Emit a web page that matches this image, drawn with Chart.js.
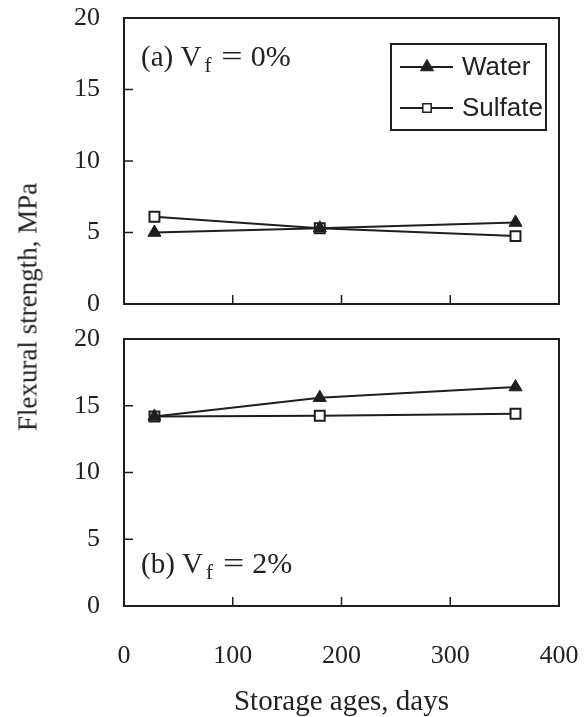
<!DOCTYPE html>
<html>
<head>
<meta charset="utf-8">
<script src="https://cdn.jsdelivr.net/npm/chart.js@4.4.0/dist/chart.umd.min.js"></script>
<style>
    html, body { margin: 0; padding: 0; background: #fff; }
    #wrap { position: relative; width: 587px; height: 717px; background: #fff; overflow: hidden; }
    .panel { position: absolute; left: 0; }
    #y-title {
        position: absolute;
        left: 28px;
        top: 307px;
        transform: translate(-50%, -50%) rotate(-90deg);
        white-space: nowrap;
        font-family: "Liberation Serif", "DejaVu Serif", serif;
        font-size: 27px;
        color: #222;
    }
</style>
</head>
<body>
<div id="wrap">
    <div class="panel" style="top:0"><canvas id="chart-a" width="587" height="320"></canvas></div>
    <div class="panel" style="top:320px"><canvas id="chart-b" width="587" height="397"></canvas></div>
    <div id="y-title">Flexural strength, MPa</div>
</div>
<script>
// storage ages (days) and flexural strength (MPa)
const storageDays = [28, 180, 360];
const waterVf0 = [5.0, 5.3, 5.7];
const sulfateVf0 = [6.1, 5.3, 4.75];
const waterVf2 = [14.2, 15.6, 16.4];
const sulfateVf2 = [14.2, 14.25, 14.4];
const seriesNames = ['Water', 'Sulfate'];
const xTicks = [0, 100, 200, 300, 400];
const yTicks = [0, 5, 10, 15, 20];

const INK = '#1e1e1e';
const SERIF = '"Liberation Serif", "DejaVu Serif", serif';
const SANS = '"Liberation Sans", Arial, sans-serif';

function toPoints(values) {
    return storageDays.map((d, i) => ({ x: d, y: values[i] }));
}

function makeDatasets(water, sulfate) {
    return [
        {
            label: seriesNames[0],
            data: toPoints(water),
            borderColor: INK,
            borderWidth: 2,
            pointStyle: 'triangle',
            pointRadius: 7.5,
            pointBackgroundColor: INK,
            pointBorderColor: INK,
            pointBorderWidth: 1,
            order: 0
        },
        {
            label: seriesNames[1],
            data: toPoints(sulfate),
            borderColor: INK,
            borderWidth: 2,
            pointStyle: 'rect',
            pointRadius: 7,
            pointBackgroundColor: '#fff',
            pointBorderColor: INK,
            pointBorderWidth: 2,
            order: 1
        }
    ];
}

// frame round the plot area plus inward tick marks
const framePlugin = {
    id: 'frame',
    afterDraw(chart) {
        const { ctx, chartArea: a, scales } = chart;
        ctx.save();
        ctx.strokeStyle = INK;
        ctx.lineWidth = 2;
        ctx.strokeRect(a.left, a.top, a.right - a.left, a.bottom - a.top);
        ctx.lineWidth = 1.5;
        ctx.beginPath();
        scales.y.ticks.forEach(t => {
            if (t.value === scales.y.min || t.value === scales.y.max) return;
            const y = scales.y.getPixelForValue(t.value);
            ctx.moveTo(a.left, y);
            ctx.lineTo(a.left + 9, y);
        });
        scales.x.ticks.forEach(t => {
            if (t.value === scales.x.min || t.value === scales.x.max) return;
            const x = scales.x.getPixelForValue(t.value);
            ctx.moveTo(x, a.bottom);
            ctx.lineTo(x, a.bottom - 9);
        });
        ctx.stroke();
        ctx.restore();
    }
};

function drawMarker(ctx, style, x, y, r, fill) {
    ctx.beginPath();
    if (style === 'triangle') {
        ctx.moveTo(x, y - r);
        ctx.lineTo(x + r * 0.87, y + r * 0.5);
        ctx.lineTo(x - r * 0.87, y + r * 0.5);
        ctx.closePath();
    } else {
        const s = r * 0.7;
        ctx.rect(x - s, y - s, 2 * s, 2 * s);
    }
    ctx.fillStyle = fill;
    ctx.fill();
    ctx.stroke();
}

// boxed legend, line + marker + name
const legendPlugin = {
    id: 'boxLegend',
    afterDraw(chart, args, opts) {
        if (!opts.show) return;
        const { ctx, chartArea: a } = chart;
        const w = 155, h = 86;
        const left = a.right - 13 - w;
        const top = a.top + 26;
        ctx.save();
        ctx.strokeStyle = INK;
        ctx.lineWidth = 2;
        ctx.strokeRect(left, top, w, h);
        ctx.font = '26px ' + SANS;
        ctx.textBaseline = 'middle';
        ctx.textAlign = 'left';
        chart.data.datasets.forEach((ds, i) => {
            const y = top + 23 + i * 41;
            ctx.strokeStyle = INK;
            ctx.lineWidth = 2;
            ctx.beginPath();
            ctx.moveTo(left + 9, y);
            ctx.lineTo(left + 62, y);
            ctx.stroke();
            ctx.lineWidth = i === 0 ? 1 : 1.5;
            drawMarker(ctx, ds.pointStyle, left + 36, y, i === 0 ? 7.5 : 6, ds.pointBackgroundColor);
            ctx.fillStyle = '#222';
            ctx.fillText(ds.label, left + 71, y + 1);
        });
        ctx.restore();
    }
};

// "(a) Vf = 0%" style panel label with subscript f
const panelLabelPlugin = {
    id: 'panelLabel',
    afterDraw(chart, args, opts) {
        const { ctx, chartArea: a } = chart;
        const x0 = a.left + 17;
        const base = opts.fromBottom ? a.bottom - 33 : a.top + 48;
        ctx.save();
        ctx.fillStyle = '#222';
        ctx.textBaseline = 'alphabetic';
        ctx.textAlign = 'left';
        ctx.font = '29px ' + SERIF;
        const head = opts.prefix + ' V';
        ctx.fillText(head, x0, base);
        let x = x0 + ctx.measureText(head).width + 3;
        ctx.font = '21px ' + SERIF;
        ctx.fillText('f', x, base + 6);
        x += ctx.measureText('f').width + 10;
        ctx.font = '29px ' + SERIF;
        ctx.save();
        ctx.translate(x, base);
        ctx.scale(1.3, 1);
        ctx.fillText('=', 0, 0);
        ctx.restore();
        x += ctx.measureText('=').width * 1.3 + 8;
        ctx.font = '30px ' + SERIF;
        ctx.fillText(opts.value, x, base);
        ctx.restore();
    }
};

function makeOptions(isBottom, labelOpts, showLegend) {
    return {
        responsive: false,
        animation: false,
        layout: {
            padding: isBottom
                ? { top: 19, right: 28, bottom: 0, left: 0 }
                : { top: 18, right: 28, bottom: 16, left: 0 }
        },
        plugins: {
            legend: { display: false },
            tooltip: { enabled: false },
            panelLabel: labelOpts,
            boxLegend: { show: showLegend }
        },
        scales: {
            x: {
                type: 'linear',
                min: xTicks[0],
                max: xTicks[xTicks.length - 1],
                afterBuildTicks: s => { s.ticks = xTicks.map(v => ({ value: v })); },
                grid: { display: false, drawTicks: false },
                border: { display: false },
                ticks: {
                    display: isBottom,
                    padding: 35,
                    color: '#222',
                    font: { family: SERIF, size: 26 }
                },
                title: {
                    display: isBottom,
                    text: 'Storage ages, days',
                    color: '#222',
                    padding: { top: 0, bottom: -3 },
                    font: { family: SERIF, size: 29 }
                },
                afterFit: s => {
                    s.height = isBottom ? 111 : 0;
                    s.paddingLeft = 0;
                    s.paddingRight = 0;
                }
            },
            y: {
                min: yTicks[0],
                max: yTicks[yTicks.length - 1],
                afterBuildTicks: s => { s.ticks = yTicks.map(v => ({ value: v })); },
                grid: { display: false, drawTicks: false },
                border: { display: false },
                ticks: {
                    padding: 24,
                    color: '#222',
                    font: { family: SERIF, size: 26 }
                },
                afterFit: s => {
                    s.width = 124;
                    s.paddingTop = 0;
                    s.paddingBottom = 0;
                }
            }
        }
    };
}

new Chart(document.getElementById('chart-a'), {
    type: 'line',
    data: { datasets: makeDatasets(waterVf0, sulfateVf0) },
    options: makeOptions(false, { prefix: '(a)', value: '0%', fromBottom: false }, true),
    plugins: [framePlugin, legendPlugin, panelLabelPlugin]
});

new Chart(document.getElementById('chart-b'), {
    type: 'line',
    data: { datasets: makeDatasets(waterVf2, sulfateVf2) },
    options: makeOptions(true, { prefix: '(b)', value: '2%', fromBottom: true }, false),
    plugins: [framePlugin, legendPlugin, panelLabelPlugin]
});
</script>
</body>
</html>
